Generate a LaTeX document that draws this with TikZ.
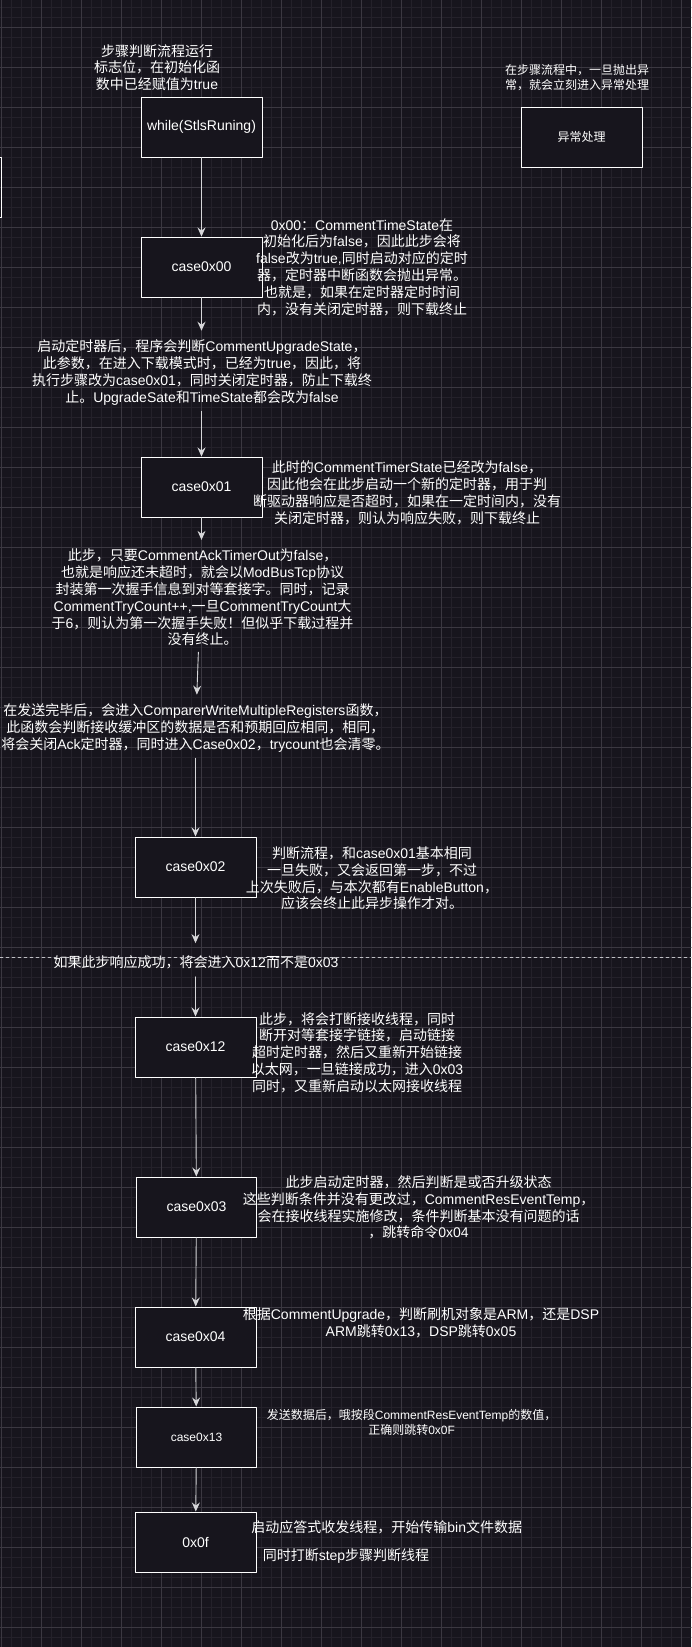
\documentclass[tikz,border=0pt]{standalone}
\usepackage{fontspec}
\usepackage{tikz}
\usetikzlibrary{arrows.meta}
\setmainfont{Liberation Sans}
\newfontfamily\enfont{Liberation Sans}
\newfontfamily\zhfont{Noto Sans CJK SC}
% Chinese characters switch to the CJK face
\XeTeXinterchartokenstate=1
\newXeTeXintercharclass\zhclass
\newcount\zhcnt
\zhcnt="3000
\loop\ifnum\zhcnt<"A000 \XeTeXcharclass\zhcnt=\zhclass \advance\zhcnt by 1 \repeat
\zhcnt="FF00
\loop\ifnum\zhcnt<"FFF0 \XeTeXcharclass\zhcnt=\zhclass \advance\zhcnt by 1 \repeat
\XeTeXinterchartoks 0 \zhclass = {\zhfont}
\XeTeXinterchartoks 4095 \zhclass = {\zhfont}
\XeTeXinterchartoks \zhclass 0 = {\enfont}
\XeTeXinterchartoks \zhclass 4095 = {\enfont}
\definecolor{bgdark}{rgb}{0.09,0.082,0.114}
\definecolor{gridmin}{rgb}{0.14,0.13,0.165}
\definecolor{gridmaj}{rgb}{0.23,0.22,0.255}
\definecolor{linegray}{rgb}{0.84,0.84,0.85}
\definecolor{dashgray}{rgb}{0.75,0.75,0.77}
\tikzset{
  casebox/.style={draw=white,line width=1pt,fill=bgdark,minimum width=121pt,minimum height=60pt,inner sep=0pt,text=white,font=\fontsize{14}{16.8}\selectfont},
  note/.style={text=white,align=center,inner sep=0pt,font=\fontsize{14}{16.8}\selectfont},
  smallnote/.style={note,font=\fontsize{12}{15}\selectfont},
  link/.style={->,draw=linegray,line width=0.9pt},
  totext/.style={link,shorten >=9pt},
  fromtext/.style={link,shorten <=6pt}
}
\begin{document}
\begin{tikzpicture}[line cap=round,line join=round,>={Stealth[length=9pt,width=8pt,inset=3pt]},x=1.0pt,y=-1.0pt]
  \fill[bgdark] (0,0) rectangle (691,1647);
  \useasboundingbox (0,0) rectangle (691,1647);
  % grid
  \foreach \x in {1.7,11.7,...,691}
    \draw[gridmin,line width=0.6pt] (\x,0) -- (\x,1647);
  \foreach \y in {7.3,17.3,...,1647}
    \draw[gridmin,line width=0.6pt] (0,\y) -- (691,\y);
  \foreach \x in {1.7,41.7,...,691}
    \draw[gridmaj,line width=0.7pt] (\x,0) -- (\x,1647);
  \foreach \y in {27.3,67.3,...,1647}
    \draw[gridmaj,line width=0.7pt] (0,\y) -- (691,\y);
  % boxes
  \node[casebox] (swhile) at (201.5,127) {while(StlsRuning)};
  \node[casebox,font=\fontsize{12}{14}\selectfont] (serr) at (581.5,137) {异常处理};
  \draw[white,line width=1pt] (0,157) -- (1.5,157) -- (1.5,217) -- (0,217);
  \node[casebox] (s00) at (201.5,267) {case0x00};
  \node[casebox] (s01) at (201.5,487) {case0x01};
  \node[casebox] (s02) at (195.5,867) {case0x02};
  \node[casebox] (s12) at (195.5,1047) {case0x12};
  \node[casebox,minimum width=120pt] (s03) at (196.5,1207) {case0x03};
  \node[casebox] (s04) at (195.5,1337) {case0x04};
  \node[casebox,minimum width=120pt,font=\fontsize{12}{14}\selectfont] (s13) at (196.5,1437) {case0x13};
  \node[casebox] (s0f) at (195.5,1542) {0x0f};
  % notes
  \node[note] (twhile) at (157,67.5) {步骤判断流程运行\\标志位，在初始化函\\数中已经赋值为true};
  \node[smallnote] (terr) at (577,77.5) {在步骤流程中，一旦抛出异\\常，就会立刻进入异常处理};
  \node[note] (t00) at (362,267) {0x00：CommentTimeState在\\初始化后为false，因此此步会将\\false改为true,同时启动对应的定时\\器，定时器中断函数会抛出异常。\\也就是，如果在定时器定时时间\\内，没有关闭定时器，则下载终止};
  \node[note] (t00b) at (202,372.5) {启动定时器后，程序会判断CommentUpgradeState，\\此参数，在进入下载模式时，已经为true，因此，将\\执行步骤改为case0x01，同时关闭定时器，防止下载终\\止。UpgradeSate和TimeState都会改为false};
  \node[note] (t01) at (407,493) {此时的CommentTimerState已经改为false，\\因此他会在此步启动一个新的定时器，用于判\\断驱动器响应是否超时，如果在一定时间内，没有\\关闭定时器，则认为响应失败，则下载终止};
  \node[note] (t01b) at (202.6,597.5) {此步，只要CommentAckTimerOut为false，\\也就是响应还未超时，就会以ModBusTcp协议\\封装第一次握手信息到对等套接字。同时，记录\\CommentTryCount++,一旦CommentTryCount大\\于6，则认为第一次握手失败！但似乎下载过程并\\没有终止。};
  \node[note] (t02a) at (195.5,728) {在发送完毕后，会进入ComparerWriteMultipleRegisters函数，\\此函数会判断接收缓冲区的数据是否和预期回应相同，相同，\\将会关闭Ack定时器，同时进入Case0x02，trycount也会清零。};
  \node[note] (t02) at (372,878.5) {判断流程，和case0x01基本相同\\一旦失败，又会返回第一步，不过\\上次失败后，与本次都有EnableButton，\\应该会终止此异步操作才对。};
  \node[note] (t12a) at (196,962) {如果此步响应成功，将会进入0x12而不是0x03};
  \node[note] (t12) at (357,1052.5) {此步，将会打断接收线程，同时\\断开对等套接字链接，启动链接\\超时定时器，然后又重新开始链接\\以太网，一旦链接成功，进入0x03\\同时，又重新启动以太网接收线程};
  \node[note] (t03) at (418.6,1207.5) {此步启动定时器，然后判断是或否升级状态\\这些判断条件并没有更改过，CommentResEventTemp，\\会在接收线程实施修改，条件判断基本没有问题的话\\，跳转命令0x04};
  \node[note] (t04) at (421,1323) {根据CommentUpgrade，判断刷机对象是ARM，还是DSP\\ARM跳转0x13，DSP跳转0x05};
  \node[smallnote] (t13) at (411.6,1422.5) {发送数据后，哦按段CommentResEventTemp的数值，\\正确则跳转0x0F};
  \node[note] (t0fa) at (386.7,1527) {启动应答式收发线程，开始传输bin文件数据};
  \node[note] (t0fb) at (346,1556) {同时打断step步骤判断线程};
  % dashed divider
  \draw[dashgray,line width=0.8pt,dash pattern=on 3pt off 3pt] (0,957) -- (691,957);
  % connectors
  \draw[link] (swhile) -- (s00);
  \draw[totext] (s00.south) -- (s00.south |- t00b.north);
  \draw[fromtext] (s01.north |- t00b.south) -- (s01.north);
  \draw[totext] (s01.south) -- (s01.south |- t01b.north);
  \draw[link,shorten <=6pt,shorten >=9pt] ([xshift=-4pt]t01b.south) -- ([xshift=1pt]t02a.north);
  \draw[fromtext] (s02.north |- t02a.south) -- (s02.north);
  \draw[link,shorten >=12pt] (s02.south) -- (s02.south |- t12a.north);
  \draw[link,shorten <=8pt] (s12.north |- t12a.south) -- (s12.north);
  \draw[link] (s12) -- (s03);
  \draw[link] (s03) -- (s04);
  \draw[link] (s04) -- (s13);
  \draw[link] (s13) -- (s0f);
\end{tikzpicture}
\end{document}
